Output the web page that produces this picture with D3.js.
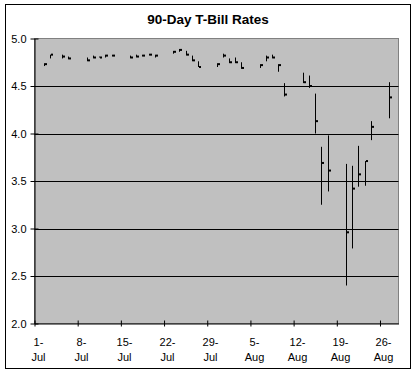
<!DOCTYPE html>
<html>
<head>
<meta charset="utf-8">
<script src="https://cdn.jsdelivr.net/npm/d3@7"></script>
<style>
  body { margin: 0; background: #fff; }
  svg text { font-family: "Liberation Sans", Arial, sans-serif; fill: #000; }
</style>
</head>
<body>
<div id="chart"></div>
<script>
// trading days, 2007
const dates = [
    '2007-07-02', '2007-07-03', '2007-07-05', '2007-07-06',
    '2007-07-09', '2007-07-10', '2007-07-11', '2007-07-12', '2007-07-13',
    '2007-07-16', '2007-07-17', '2007-07-18', '2007-07-19', '2007-07-20',
    '2007-07-23', '2007-07-24', '2007-07-25', '2007-07-26', '2007-07-27',
    '2007-07-30', '2007-07-31', '2007-08-01', '2007-08-02', '2007-08-03',
    '2007-08-06', '2007-08-07', '2007-08-08', '2007-08-09', '2007-08-10',
    '2007-08-13', '2007-08-14', '2007-08-15', '2007-08-16', '2007-08-17',
    '2007-08-20', '2007-08-21', '2007-08-22', '2007-08-23', '2007-08-24',
    '2007-08-27'
];
const highs = [
    4.74, 4.83, 4.83, 4.81,
    4.80, 4.82, 4.81, 4.83, 4.83,
    4.82, 4.83, 4.83, 4.84, 4.83,
    4.87, 4.89, 4.87, 4.82, 4.76,
    4.74, 4.84, 4.79, 4.80, 4.75,
    4.73, 4.82, 4.83, 4.73, 4.53,
    4.64, 4.61, 4.42, 3.86, 3.98,
    3.68, 3.66, 3.87, 3.71, 4.13,
    4.54
];
const lows = [
    4.71, 4.79, 4.79, 4.78,
    4.76, 4.79, 4.80, 4.80, 4.81,
    4.79, 4.80, 4.81, 4.82, 4.80,
    4.84, 4.86, 4.82, 4.76, 4.70,
    4.70, 4.80, 4.74, 4.74, 4.68,
    4.69, 4.76, 4.79, 4.65, 4.39,
    4.53, 4.48, 4.00, 3.25, 3.39,
    2.40, 2.79, 3.44, 3.45, 3.93,
    4.16
];
const closes = [
    4.73, 4.83, 4.81, 4.79,
    4.77, 4.80, 4.80, 4.82, 4.82,
    4.80, 4.81, 4.82, 4.83, 4.82,
    4.86, 4.88, 4.83, 4.77, 4.70,
    4.73, 4.82, 4.75, 4.75, 4.69,
    4.72, 4.80, 4.80, 4.72, 4.41,
    4.54, 4.50, 4.13, 3.69, 3.61,
    2.96, 3.42, 3.57, 3.71, 4.07,
    4.38
];
const yTicks = [2.0, 2.5, 3.0, 3.5, 4.0, 4.5, 5.0];
const xTickDates = ['2007-07-01', '2007-07-08', '2007-07-15', '2007-07-22', '2007-07-29',
    '2007-08-05', '2007-08-12', '2007-08-19', '2007-08-26'];

const width = 417, height = 375;
const plot = { left: 34.5, right: 398.5, top: 38.5, bottom: 323.5 };

const parse = d3.utcParse('%Y-%m-%d');
const data = dates.map((d, i) => ({ date: parse(d), high: highs[i], low: lows[i], close: closes[i] }));

const svg = d3.select('#chart')
    .append('svg')
    .attr('width', width)
    .attr('height', height);

// outer frame
svg.append('rect')
    .attr('x', 5.5).attr('y', 4.5)
    .attr('width', 405).attr('height', 364)
    .attr('fill', '#fff')
    .attr('stroke', '#000');

const x = d3.scaleUtc()
    .domain([parse('2007-07-01'), parse('2007-08-29')])
    .range([plot.left, plot.right]);
const y = d3.scaleLinear()
    .domain([2, 5])
    .range([plot.bottom, plot.top]);

const halfDay = 12 * 3600 * 1000;
const cx = d => Math.round(x(new Date(+d + halfDay))) + 0.5;

// plot area
svg.append('rect')
    .attr('x', plot.left).attr('y', plot.top)
    .attr('width', plot.right - plot.left).attr('height', plot.bottom - plot.top)
    .attr('fill', '#c0c0c0')
    .attr('stroke', '#808080');

// gridlines
svg.append('g')
    .selectAll('line')
    .data(yTicks.slice(1, -1))
    .join('line')
    .attr('x1', plot.left).attr('x2', plot.right)
    .attr('y1', d => Math.round(y(d)) + 0.5).attr('y2', d => Math.round(y(d)) + 0.5)
    .attr('stroke', '#000');

// y axis
const yAxis = svg.append('g')
    .attr('transform', `translate(${plot.left},0)`)
    .call(d3.axisLeft(y).tickValues(yTicks).tickFormat(d3.format('.1f')).tickSizeInner(4).tickSizeOuter(0));
yAxis.select('.domain').attr('stroke', '#000');
yAxis.selectAll('.tick line').attr('x1', -4).attr('x2', 4).attr('stroke', '#000');
yAxis.selectAll('.tick text').attr('x', -8).attr('dy', '0.35em')
    .style('font-size', '11px');

// x axis
const xAxis = svg.append('g')
    .attr('transform', `translate(0,${plot.bottom})`)
    .call(d3.axisBottom(x).tickValues(xTickDates.map(parse)).tickFormat('').tickSizeOuter(0));
xAxis.select('.domain').attr('stroke', '#000');
xAxis.selectAll('.tick line').attr('y1', -3).attr('y2', 3).attr('stroke', '#000');

const fmtDay = d3.utcFormat('%-d');
const fmtMon = d3.utcFormat('%b');
const xLabels = svg.append('g')
    .selectAll('text')
    .data(xTickDates.map(parse))
    .join('text')
    .attr('x', d => cx(d))
    .attr('y', 346)
    .attr('text-anchor', 'middle')
    .style('font-size', '11px');
xLabels.append('tspan').attr('x', d => cx(d)).text(d => fmtDay(d) + '-');
xLabels.append('tspan').attr('x', d => cx(d)).attr('dy', 15).text(d => fmtMon(d));

// high-low lines
svg.append('g')
    .selectAll('line')
    .data(data)
    .join('line')
    .attr('x1', d => cx(d.date)).attr('x2', d => cx(d.date))
    .attr('y1', d => y(d.high)).attr('y2', d => y(d.low))
    .attr('stroke', '#000')
    .attr('stroke-width', 1);

// close markers
svg.append('g')
    .selectAll('rect')
    .data(data)
    .join('rect')
    .attr('x', d => cx(d.date) + 0.5)
    .attr('y', d => y(d.close) - 1)
    .attr('width', 2)
    .attr('height', 2)
    .attr('fill', '#000');

// title
svg.append('text')
    .attr('x', 208)
    .attr('y', 24)
    .attr('text-anchor', 'middle')
    .style('font-size', '13.5px')
    .style('font-weight', 'bold')
    .text('90-Day T-Bill Rates');
</script>
</body>
</html>
